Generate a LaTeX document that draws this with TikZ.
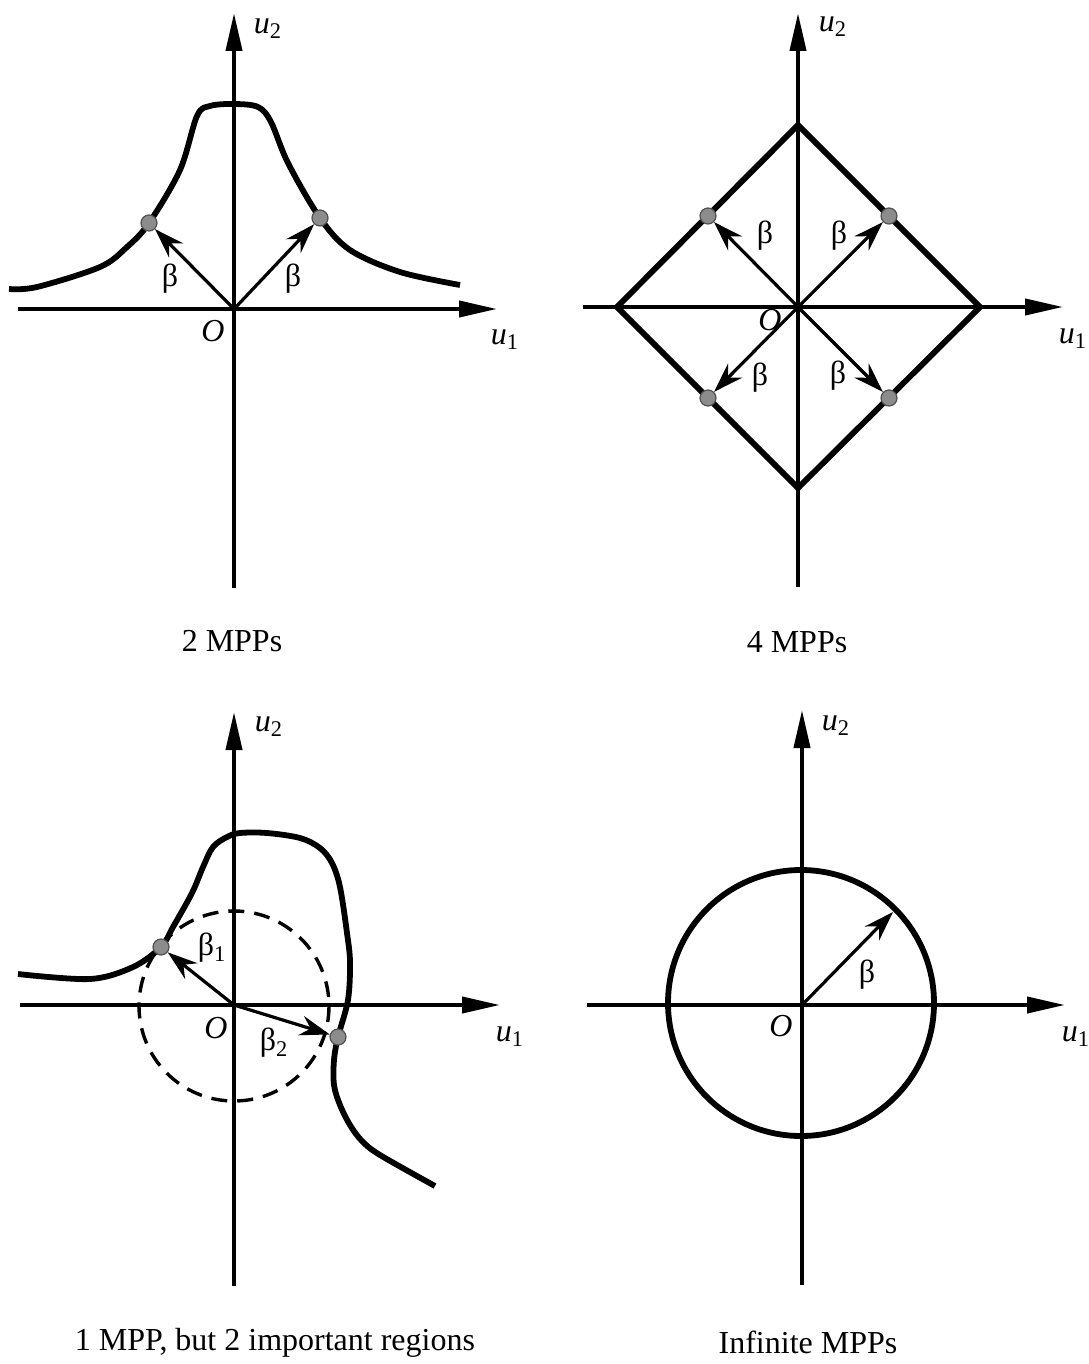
\documentclass[tikz,border=0pt]{standalone}
\usepackage{fontspec}
\setmainfont{Liberation Serif}
\usetikzlibrary{arrows.meta}
\definecolor{mppfill}{HTML}{8C8C8C}
\definecolor{mppedge}{HTML}{505050}
\tikzset{
  axis/.style={line width=2pt, -{Triangle[length=19pt, width=8pt]}},
  limit/.style={line width=2.9pt, line join=round},
  vec/.style={line width=1.6pt, -{Stealth[length=15pt, width=10pt, inset=5pt]}},
  mpp/.style={circle, fill=mppfill, draw=mppedge, line width=0.6pt,
              minimum size=8pt, inner sep=0pt},
  lab/.style={font=\fontsize{16}{19}\selectfont, inner sep=0pt},
  ring/.style={line width=1.7pt, dash pattern=on 8pt off 5pt},
}
\begin{document}
\begin{tikzpicture}[x=0.5pt, y=-0.5pt]
  \useasboundingbox (0,0) rectangle (1088,1364);
  % 2 MPPs
  \coordinate (oA) at (234,309);
  \coordinate (aW) at (18,309);
  \coordinate (aE) at (497,309);
  \coordinate (aS) at (234,588);
  \coordinate (aN) at (234,13);
  \draw[axis] (aW) -- (aE);
  \draw[axis] (aS) -- (aN);
  \draw[limit] plot[smooth, tension=0.55] coordinates {(9,289) (37,287) (100,267) (127,247)
    (149,223) (180,170) (197,116) (210,106) (234,104) (258,107) (271,122) (288,163)
    (320,218) (350,250) (400,272) (460,285)};
  \node[mpp] (a1) at (149,223) {};
  \node[mpp] (a2) at (320,218) {};
  \draw[vec] (oA) -- (a1);
  \draw[vec] (oA) -- (a2);
  \node[lab] (bA1) at (170,279) {β};
  \node[lab] (bA2) at (293,279) {β};
  \node[lab] (OA) at (213,331) {\textit{O}};
  \node[lab] (uA1) at (505,340) {\textit{u}\textsubscript{1}};
  \node[lab] (uA2) at (268,29) {\textit{u}\textsubscript{2}};
  \node[lab] (capA) at (232,641) {2 MPPs};

  % 4 MPPs
  \coordinate (oB) at (798,307);
  \coordinate (bW) at (583,307);
  \coordinate (bE) at (1063,307);
  \coordinate (bS) at (798,587);
  \coordinate (bN) at (798,13);
  \draw[axis] (bW) -- (bE);
  \draw[axis] (bS) -- (bN);
  \coordinate (dN) at (798,125);
  \coordinate (dE) at (980,307);
  \coordinate (dS) at (798,488);
  \coordinate (dW) at (617,307);
  \draw[limit, line join=miter] (dN) -- (dE) -- (dS) -- (dW) -- cycle;
  \node[mpp] (b1) at (708,216) {};
  \node[mpp] (b2) at (889,216) {};
  \node[mpp] (b3) at (708,398) {};
  \node[mpp] (b4) at (889,398) {};
  \foreach \m in {b1,b2,b3,b4}
    \draw[vec] (oB) -- (\m);
  \node[lab] (bB1) at (765,236) {β};
  \node[lab] (bB2) at (839,236) {β};
  \node[lab] (bB3) at (760,378) {β};
  \node[lab] (bB4) at (838,376) {β};
  \node[lab] (OB) at (770,320) {\textit{O}};
  \node[lab] (uB1) at (1073,339) {\textit{u}\textsubscript{1}};
  \node[lab] (uB2) at (833,27) {\textit{u}\textsubscript{2}};
  \node[lab] (capB) at (797,642) {4 MPPs};

  % 1 MPP, 2 regions
  \coordinate (oC) at (234,1005);
  \coordinate (cW) at (20,1005);
  \coordinate (cE) at (500,1005);
  \coordinate (cS) at (234,1286);
  \coordinate (cN) at (234,712);
  \draw[axis] (cW) -- (cE);
  \draw[axis] (cS) -- (cN);
  \draw[ring] (234,1006) circle[radius=95];
  \draw[limit] plot[smooth, tension=0.55] coordinates {(18,974) (90,979) (133,967)
    (161,947) (173,927) (192,893) (203,867) (213,847) (227,837) (240,833) (267,833)
    (300,838) (320,848) (332,863) (340,887) (347,933) (350,962) (348,1000)
    (338,1037) (334,1060) (334,1085) (340,1105) (350,1125) (362,1141)
    (380,1155) (435,1186)};
  \node[mpp] (c1) at (161,947) {};
  \node[mpp] (c2) at (338,1037) {};
  \draw[vec] (oC) -- (c1);
  \draw[vec] (oC) -- (c2);
  \node[lab] (bC1) at (212,948) {β\textsubscript{1}};
  \node[lab] (bC2) at (274,1043) {β\textsubscript{2}};
  \node[lab] (OC) at (216,1028) {\textit{O}};
  \node[lab] (uC1) at (510,1037) {\textit{u}\textsubscript{1}};
  \node[lab] (uC2) at (269,727) {\textit{u}\textsubscript{2}};
  \node[lab] (capC) at (275,1343) {1 MPP, but 2 important regions};

  % Infinite MPPs
  \coordinate (oD) at (802,1005);
  \coordinate (dW1) at (587,1005);
  \coordinate (dE1) at (1065,1005);
  \coordinate (dS1) at (802,1285);
  \coordinate (dN1) at (802,710);
  \draw[axis] (dW1) -- (dE1);
  \draw[axis] (dS1) -- (dN1);
  \draw[limit] (801,1003) circle[radius=133];
  \coordinate (d1) at (893,912);
  \draw[vec] (oD) -- (d1);
  \node[lab] (bD1) at (867,975) {β};
  \node[lab] (OD) at (781,1026) {\textit{O}};
  \node[lab] (uD1) at (1076,1037) {\textit{u}\textsubscript{1}};
  \node[lab] (uD2) at (836,726) {\textit{u}\textsubscript{2}};
  \node[lab] (capD) at (808,1342) {Infinite MPPs};
\end{tikzpicture}
\end{document}
